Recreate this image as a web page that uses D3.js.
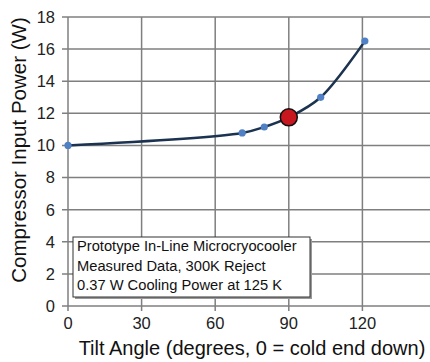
<!DOCTYPE html>
<html>
<head>
<meta charset="utf-8">
<script src="https://cdn.jsdelivr.net/npm/d3@7"></script>
<style>
  body { margin: 0; background: #fff; }
  svg { display: block; font-family: "Liberation Sans", Arial, sans-serif; }
</style>
</head>
<body>
<div id="chart"></div>
<script>
const tiltAngles = [0, 71, 80, 90, 103, 121];
const inputPower = [10.0, 10.78, 11.15, 11.75, 13.0, 16.5];
const highlightAngle = 90;
const highlightPower = 11.75;
const xTicks = [0, 30, 60, 90, 120];
const yTicks = [0, 2, 4, 6, 8, 10, 12, 14, 16, 18];
const noteLines = [
  'Prototype In-Line Microcryocooler',
  'Measured Data, 300K Reject',
  '0.37 W Cooling Power at 125 K'
];

const width = 430, height = 362;
const margin = { top: 17, right: -6, bottom: 56, left: 68 };

const svg = d3.select('#chart').append('svg')
  .attr('width', width)
  .attr('height', height);

const x = d3.scaleLinear().domain([0, 150]).range([margin.left, width - margin.right]);
const y = d3.scaleLinear().domain([0, 18]).range([height - margin.bottom, margin.top]);

const grid = '#7f7f7f';

// grid
svg.append('g').selectAll('line.h')
  .data(yTicks).enter().append('line')
  .attr('x1', x(0) - 6).attr('x2', width)
  .attr('y1', d => y(d)).attr('y2', d => y(d))
  .attr('stroke', grid).attr('stroke-width', 1.5);

svg.append('g').selectAll('line.v')
  .data(xTicks).enter().append('line')
  .attr('x1', d => x(d)).attr('x2', d => x(d))
  .attr('y1', y(18)).attr('y2', y(0) + 5)
  .attr('stroke', grid).attr('stroke-width', 1.5);

// tick labels
svg.append('g').selectAll('text')
  .data(yTicks).enter().append('text')
  .attr('x', 55).attr('y', d => y(d))
  .attr('dy', '0.36em')
  .attr('text-anchor', 'end')
  .attr('font-size', 16.5)
  .attr('fill', '#222')
  .text(d => d);

svg.append('g').selectAll('text')
  .data(xTicks).enter().append('text')
  .attr('x', d => x(d)).attr('y', 329)
  .attr('text-anchor', 'middle')
  .attr('font-size', 16.5)
  .attr('fill', '#222')
  .text(d => d);

// axis titles
svg.append('text')
  .attr('x', 252).attr('y', 355)
  .attr('text-anchor', 'middle')
  .attr('font-size', 20)
  .attr('fill', '#111')
  .text('Tilt Angle (degrees, 0 = cold end down)');

svg.append('text')
  .attr('transform', 'translate(26,150) rotate(-90)')
  .attr('text-anchor', 'middle')
  .attr('font-size', 20.5)
  .attr('fill', '#111')
  .text('Compressor Input Power (W)');

// curve
const pts = tiltAngles.map((a, i) => [a, inputPower[i]]);
const line = d3.line()
  .x(d => x(d[0]))
  .y(d => y(d[1]))
  .curve(d3.curveCatmullRom.alpha(0.5));

svg.append('path')
  .datum(pts)
  .attr('fill', 'none')
  .attr('stroke', '#1b3350')
  .attr('stroke-width', 2.5)
  .attr('d', line);

svg.append('g').selectAll('circle')
  .data(pts).enter().append('circle')
  .attr('cx', d => x(d[0]))
  .attr('cy', d => y(d[1]))
  .attr('r', 3.6)
  .attr('fill', '#4f81c4');

svg.append('circle')
  .attr('cx', x(highlightAngle))
  .attr('cy', y(highlightPower))
  .attr('r', 8.5)
  .attr('fill', '#c8171e')
  .attr('stroke', '#111')
  .attr('stroke-width', 1.5);

// note box
const note = svg.append('g');
note.append('rect')
  .attr('x', 75).attr('y', 239)
  .attr('width', 237).attr('height', 60)
  .attr('fill', '#999');
note.append('rect')
  .attr('x', 73).attr('y', 237)
  .attr('width', 237).attr('height', 60)
  .attr('fill', '#fff')
  .attr('stroke', '#333')
  .attr('stroke-width', 1);
note.selectAll('text')
  .data(noteLines).enter().append('text')
  .attr('x', 77)
  .attr('y', (d, i) => 251 + i * 19.7)
  .attr('font-size', 14.7)
  .attr('fill', '#111')
  .text(d => d);
</script>
</body>
</html>
